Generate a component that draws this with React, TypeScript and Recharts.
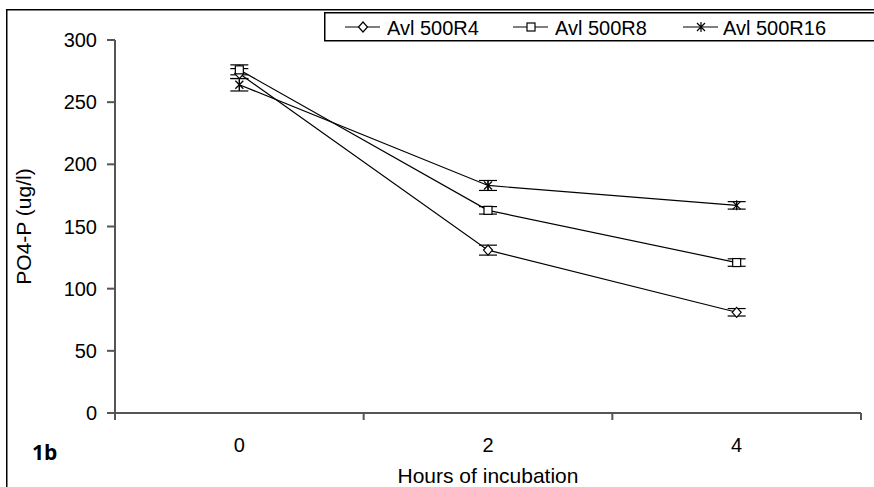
import React from 'react';
import { LineChart, Line, XAxis, YAxis, ErrorBar, Label } from 'recharts';

// hours of incubation
const hours = [0, 2, 4];

// PO4-P (ug/l)
const r4Values = [273, 131, 81];
const r8Values = [276, 163, 121];
const r16Values = [264, 183, 167];

// error bar half-widths
const r4Errors = [4, 4, 3];
const r8Errors = [4, 3, 3];
const r16Errors = [5, 4, 3];

const yTicks = [0, 50, 100, 150, 200, 250, 300];
const xTicks = [-1, 0, 1, 2, 3, 4, 5];
const xLabelTicks = [0, 2, 4];

const seriesNames = ['Avl 500R4', 'Avl 500R8', 'Avl 500R16'];

const data = hours.map((h, i) => ({
  hour: h,
  r4: r4Values[i],
  r4Err: r4Errors[i],
  r8: r8Values[i],
  r8Err: r8Errors[i],
  r16: r16Values[i],
  r16Err: r16Errors[i],
}));

const FONT = '"Liberation Sans", Arial, sans-serif';
const AXIS = '#555';

const Diamond = ({ cx, cy }: { cx: number; cy: number }) => (
  <path
    d={`M${cx},${cy - 5}L${cx + 4.5},${cy}L${cx},${cy + 5}L${cx - 4.5},${cy}Z`}
    fill="#fff"
    stroke="#000"
    strokeWidth={1.2}
  />
);

const Square = ({ cx, cy }: { cx: number; cy: number }) => (
  <rect x={cx - 4} y={cy - 4} width={8} height={8} fill="#fff" stroke="#000" strokeWidth={1.2} />
);

const Star = ({ cx, cy }: { cx: number; cy: number }) => (
  <path
    d={`M${cx - 4},${cy - 4}L${cx + 4},${cy + 4}M${cx + 4},${cy - 4}L${cx - 4},${cy + 4}M${cx},${cy - 5}L${cx},${cy + 5}`}
    fill="none"
    stroke="#000"
    strokeWidth={1.2}
  />
);

const markers = [Diamond, Square, Star];

const XTick = (props: any) => {
  const { x, y, payload } = props;
  const v = payload.value;
  if (xLabelTicks.includes(v)) {
    return (
      <text x={x} y={y + 32} dy="0.355em" textAnchor="middle" fill="#000" fontSize={20} fontFamily={FONT}>
        {v}
      </text>
    );
  }
  return <line x1={x} x2={x} y1={y} y2={y + 7} stroke={AXIS} strokeWidth={2} />;
};

// legend positions (item line start, text start)
const legendItems = [
  { lineX: 345, textX: 387 },
  { lineX: 513, textX: 555 },
  { lineX: 683, textX: 723 },
];

export default function App() {
  return (
    <div style={{ position: 'absolute', left: 0, top: 0, width: 874, height: 487, background: '#fff', overflow: 'hidden' }}>
      <LineChart width={874} height={487} data={data} margin={{ top: 40, right: 13, bottom: 0, left: 0 }}>
        <XAxis
          dataKey="hour"
          type="number"
          domain={[-1, 5]}
          ticks={xTicks}
          interval={0}
          tick={<XTick />}
          tickLine={false}
          tickSize={0}
          tickMargin={0}
          height={74}
          axisLine={{ stroke: AXIS, strokeWidth: 2 }}
        >
          <Label
            value="Hours of incubation"
            position="insideBottom"
            offset={4}
            style={{ fill: '#000', fontSize: 21, fontFamily: FONT }}
          />
        </XAxis>
        <YAxis
          domain={[0, 300]}
          ticks={yTicks}
          interval={0}
          width={115}
          tickSize={8}
          tickMargin={10}
          tick={{ fill: '#000', fontSize: 20, fontFamily: FONT }}
          tickLine={{ stroke: AXIS, strokeWidth: 2 }}
          axisLine={{ stroke: AXIS, strokeWidth: 2 }}
        >
          <Label
            value="PO4-P (ug/l)"
            angle={-90}
            position="insideLeft"
            offset={24}
            style={{ fill: '#000', fontSize: 21, fontFamily: FONT, textAnchor: 'middle' }}
          />
        </YAxis>
        <Line
          dataKey="r4"
          stroke="#000"
          strokeWidth={1.2}
          isAnimationActive={false}
          dot={(p: any) => <Diamond key={`d4-${p.index}`} cx={p.cx} cy={p.cy} />}
        >
          <ErrorBar dataKey="r4Err" direction="y" width={9} stroke="#000" strokeWidth={1.2} />
        </Line>
        <Line
          dataKey="r8"
          stroke="#000"
          strokeWidth={1.2}
          isAnimationActive={false}
          dot={(p: any) => <Square key={`d8-${p.index}`} cx={p.cx} cy={p.cy} />}
        >
          <ErrorBar dataKey="r8Err" direction="y" width={9} stroke="#000" strokeWidth={1.2} />
        </Line>
        <Line
          dataKey="r16"
          stroke="#000"
          strokeWidth={1.2}
          isAnimationActive={false}
          dot={(p: any) => <Star key={`d16-${p.index}`} cx={p.cx} cy={p.cy} />}
        >
          <ErrorBar dataKey="r16Err" direction="y" width={9} stroke="#000" strokeWidth={1.2} />
        </Line>
      </LineChart>
      <svg
        width={874}
        height={487}
        style={{ position: 'absolute', left: 0, top: 0, pointerEvents: 'none' }}
      >
        <rect x={6.75} y={9.75} width={900} height={500} fill="none" stroke="#000" strokeWidth={1.5} />
        <rect x={324.75} y={12.75} width={600} height={28} fill="#fff" stroke="#000" strokeWidth={1.5} />
        {legendItems.map((it, i) => {
          const M = markers[i];
          const cx = it.lineX + 18;
          return (
            <g key={seriesNames[i]}>
              <line x1={it.lineX} x2={it.lineX + 35} y1={27} y2={27} stroke="#000" strokeWidth={1.2} />
              <M cx={cx} cy={27} />
              <text x={it.textX} y={34.5} fontSize={20} fontFamily={FONT} fill="#000">
                {seriesNames[i]}
              </text>
            </g>
          );
        })}
        <text x={32} y={460} fontSize={21} fontWeight="bold" fontFamily='"Open Sans", sans-serif' fill="#000">
          1b
        </text>
      </svg>
    </div>
  );
}
